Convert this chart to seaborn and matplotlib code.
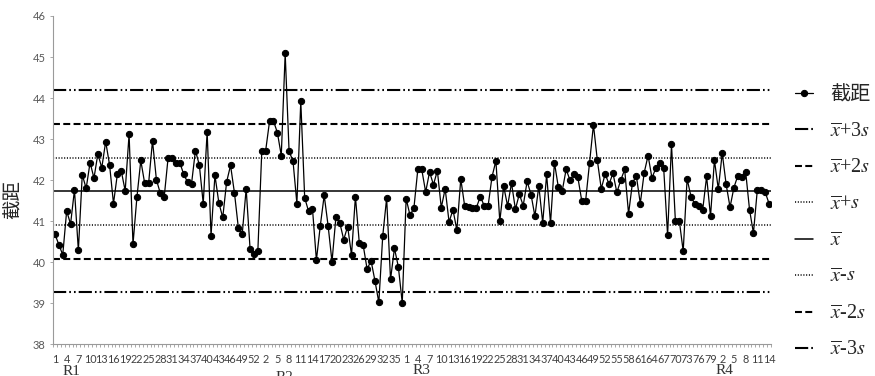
import matplotlib
matplotlib.use('Agg')
import matplotlib.pyplot as plt
import matplotlib.transforms as mtransforms
import numpy as np
import pandas as pd
import seaborn as sns

# Intercept values per run
r1 = [40.68, 40.43, 40.18, 41.25, 40.93, 41.76, 40.29, 42.13, 41.80, 42.43,
      42.05, 42.64, 42.30, 42.94, 42.37, 41.43, 42.15, 42.22, 41.74, 43.12,
      40.44, 41.58, 42.48, 41.92, 41.92, 42.96, 42.01, 41.68, 41.59, 42.55,
      42.55, 42.43, 42.43, 42.14, 41.95, 41.91, 42.72, 42.37, 41.43, 43.18,
      40.65, 42.12, 41.45, 41.09, 41.96, 42.36, 41.69, 40.84, 40.69, 41.79,
      40.33, 40.20, 40.28]
r2 = [42.70, 42.72, 43.44, 43.44, 43.16, 42.60, 45.09, 42.70, 42.47, 41.43,
      43.92, 41.57, 41.24, 41.30, 40.05, 40.89, 41.63, 40.89, 40.01, 41.10,
      40.96, 40.55, 40.87, 40.18, 41.60, 40.46, 40.41, 39.83, 40.04, 39.55,
      39.02, 40.64, 41.56, 39.58, 40.34, 39.89, 39.01]
r3 = [41.55, 41.14, 41.33, 42.27, 42.26, 41.71, 42.20, 41.89, 42.23, 41.33,
      41.79, 40.98, 41.28, 40.78, 42.03, 41.37, 41.34, 41.33, 41.33, 41.60,
      41.38, 41.37, 42.08, 42.47, 41.00, 41.85, 41.37, 41.93, 41.29, 41.66,
      41.38, 41.97, 41.65, 41.12, 41.86, 40.96, 42.14, 40.95, 42.43, 41.83,
      41.74, 42.26, 42.00, 42.14, 42.07, 41.50, 41.50, 42.43, 43.35, 42.48,
      41.79, 42.15, 41.90, 42.17, 41.70, 42.00, 42.26, 41.18, 41.94, 42.10,
      41.43, 42.18, 42.60, 42.05, 42.30, 42.41, 42.29, 40.66, 42.87, 41.00,
      41.01, 40.27, 42.03, 41.60, 41.41, 41.38, 41.28, 42.09, 41.12, 42.49]
r4 = [41.78, 42.66, 41.90, 41.34, 41.82, 42.11, 42.07, 42.21, 41.28, 40.71,
      41.77, 41.77, 41.71, 41.43]

groups = ['R1', 'R2', 'R3', 'R4']
runs = [r1, r2, r3, r4]

# centre line and standard deviation
xbar = 41.73
s = 0.82

# group label positions (category units) - as placed in the original
group_label_x = [4.2, 58.8, 93.9, 171.6]
group_label_y = [-0.082, -0.10, -0.079, -0.079]

rows = []
pos = 0
for g, vals in zip(groups, runs):
    for i, v in enumerate(vals):
        rows.append({'group': g, 'idx': i + 1, 'pos': pos, 'value': v})
        pos += 1
df = pd.DataFrame(rows)
n = len(df)

sns.set_style('white')
plt.rcParams['font.family'] = ['Noto Sans CJK SC', 'DejaVu Sans']
plt.rcParams['mathtext.fontset'] = 'stix'
plt.rcParams['lines.scale_dashes'] = False

fig = plt.figure(figsize=(8.75, 3.76), dpi=100)
ax = fig.add_axes([53 / 875, 1 - 344.3 / 376, 718 / 875, 328.3 / 376])

sns.lineplot(data=df, x='pos', y='value', ax=ax, color='black',
             linewidth=0.9, marker='o', markersize=4.5,
             markeredgecolor='black', label='截距')

dashdotdot = (0, (9.5, 2.2, 1.2, 2.2, 1.2, 2.2))
dashed = (0, (5, 2.4))
dotted = (0, (0.8, 1.2))
limits = [
    (r'$\overline{x}$+3$s$', xbar + 3 * s, dashdotdot, 1.5),
    (r'$\overline{x}$+2$s$', xbar + 2 * s, dashed, 1.5),
    (r'$\overline{x}$+$s$', xbar + s, dotted, 1.1),
    (r'$\overline{x}$', xbar, '-', 1.1),
    (r'$\overline{x}$-$s$', xbar - s, dotted, 1.1),
    (r'$\overline{x}$-2$s$', xbar - 2 * s, dashed, 1.5),
    (r'$\overline{x}$-3$s$', xbar - 3 * s, dashdotdot, 1.5),
]
for lab, lev, ls, lw in limits:
    ax.axhline(lev, color='black', linestyle=ls, linewidth=lw, label=lab)

ax.set_xlim(-0.5, n - 0.5)
ax.set_ylim(38, 46)
ax.set_yticks(range(38, 47))
ax.set_yticklabels([str(v) for v in range(38, 47)], family=['Lato'],
                   fontsize=8, color='#595959')

tick_df = df[df['pos'] % 3 == 0]
ax.set_xticks(tick_df['pos'])
ax.set_xticklabels(tick_df['idx'].astype(str), family=['Lato'],
                   fontsize=7.8, color='#404040')
ax.set_xticks(np.arange(-0.5, n, 1), minor=True)
ax.tick_params(axis='x', which='major', length=0, pad=7, bottom=True)
ax.tick_params(axis='x', which='minor', length=2.2, width=0.6,
               color='#9a9a9a', direction='out', bottom=True)
ax.tick_params(axis='y', which='major', length=2.5, width=0.6,
               color='#9a9a9a', direction='out', left=True, pad=3)

for side in ['top', 'right']:
    ax.spines[side].set_visible(False)
for side in ['left', 'bottom']:
    ax.spines[side].set_color('#9a9a9a')
    ax.spines[side].set_linewidth(0.8)

ax.set_xlabel('')
ax.set_ylabel('截距', fontsize=14, family=['Noto Sans CJK SC'])
ax.yaxis.set_label_coords(-0.040, 0.44)

trans = mtransforms.blended_transform_factory(ax.transData, ax.transAxes)
for g, gx, gy in zip(groups, group_label_x, group_label_y):
    ax.text(gx, gy, g, transform=trans, ha='center', va='center',
            fontsize=11, family=['Liberation Serif'], color='#333333')

handles, labels = ax.get_legend_handles_labels()
if ax.get_legend() is not None:
    ax.get_legend().remove()
fig.legend(handles, labels, loc='upper left',
           bbox_to_anchor=(795 / 875, 1 - 86 / 376), frameon=False,
           prop={'family': ['Liberation Serif', 'Noto Sans CJK SC'], 'size': 14.5},
           handlelength=0.9, handletextpad=0.85, labelspacing=0.86,
           borderpad=0, borderaxespad=0, numpoints=1)

fig.savefig('out.png', dpi=100)
